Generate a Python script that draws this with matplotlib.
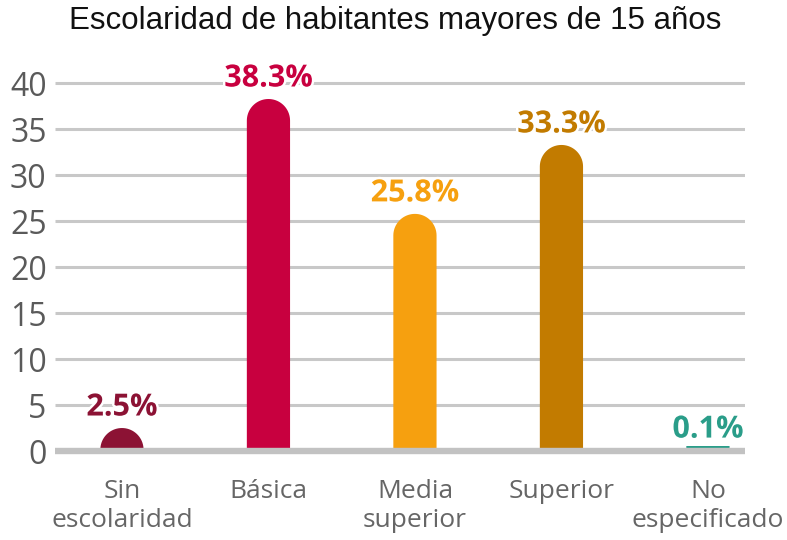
import numpy as np
import matplotlib
matplotlib.use("Agg")
import matplotlib.pyplot as plt
from matplotlib.patches import PathPatch
from matplotlib.path import Path
import matplotlib.patheffects as pe

# datos
categorias = ["Sin\nescolaridad", "Básica", "Media\nsuperior", "Superior", "No\nespecificado"]
valores = [2.5, 38.3, 25.8, 33.3, 0.1]
etiquetas = ["2.5%", "38.3%", "25.8%", "33.3%", "0.1%"]
colores = ["#8c1234", "#c8003f", "#f6a00f", "#c27b00", "#2a9d89"]
yticks = [0, 5, 10, 15, 20, 25, 30, 35, 40]

fuente = "Open Sans"
ancho = 0.295

fig = plt.figure(figsize=(7.87, 5.40), dpi=100)
ax = fig.add_axes([55 / 787, 89 / 540, 690 / 787, 386 / 540])
ax.set_xlim(-0.457, 4.253)
ax.set_ylim(0, 42)

# pixeles por unidad de datos
px_x = ax.get_position().width * 787 / (ax.get_xlim()[1] - ax.get_xlim()[0])
px_y = ax.get_position().height * 540 / (ax.get_ylim()[1] - ax.get_ylim()[0])


def barra_redondeada(c, h, w, color):
    '''
    barra con la parte superior redondeada
    '''
    if h * px_y < 5:
        # barra casi nula: se dibuja como una linea plana
        h = 5.0 / px_y
        rpx = 0.01
    else:
        rpx = min(w * px_x / 2, h * px_y)
    rx = rpx / px_x
    ry = rpx / px_y
    x0 = c - w / 2
    x1 = c + w / 2
    t = np.linspace(np.pi, np.pi / 2, 20)
    izq = np.column_stack([x0 + rx + rx * np.cos(t), h - ry + ry * np.sin(t)])
    t = np.linspace(np.pi / 2, 0, 20)
    der = np.column_stack([x1 - rx + rx * np.cos(t), h - ry + ry * np.sin(t)])
    verts = np.vstack([[x0, 0], izq, der, [x1, 0], [x0, 0]])
    codes = [Path.MOVETO] + [Path.LINETO] * (len(verts) - 2) + [Path.CLOSEPOLY]
    ax.add_patch(PathPatch(Path(verts, codes), facecolor=color, edgecolor="none", zorder=2))


x = np.arange(len(valores))
for xi, v, col, lab in zip(x, valores, colores, etiquetas):
    barra_redondeada(xi, v, ancho, col)
    ax.annotate(lab, (xi, v), xytext=(0, 9), textcoords="offset points",
                ha="center", va="baseline", fontsize=22, fontweight="bold",
                family=fuente, color=col, annotation_clip=False, zorder=5,
                path_effects=[pe.withStroke(linewidth=3.5, foreground="white")])

# rejilla
for yt in yticks[1:]:
    ax.axhline(yt, color="#c8c8c8", lw=2.2, zorder=1, solid_capstyle="butt")
ax.axhline(0, color="#c2c2c2", lw=4.6, zorder=3, clip_on=False, solid_capstyle="butt")

ax.set_yticks(yticks)
ax.set_yticklabels([str(v) for v in yticks], family=fuente, fontsize=23, color="#5a5a5a")
ax.set_xticks(x)
ax.set_xticklabels(categorias, family=fuente, fontsize=19, color="#666666", linespacing=1.2)
ax.tick_params(axis="y", length=0, pad=6)
ax.tick_params(axis="x", length=0, pad=20)
for s in ax.spines.values():
    s.set_visible(False)

fig.text(0.502, 0.988, "Escolaridad de habitantes mayores de 15 años", ha="center", va="top",
         family="Liberation Sans", fontsize=22.5, color="#111111")

fig.savefig("out.png", dpi=100)
